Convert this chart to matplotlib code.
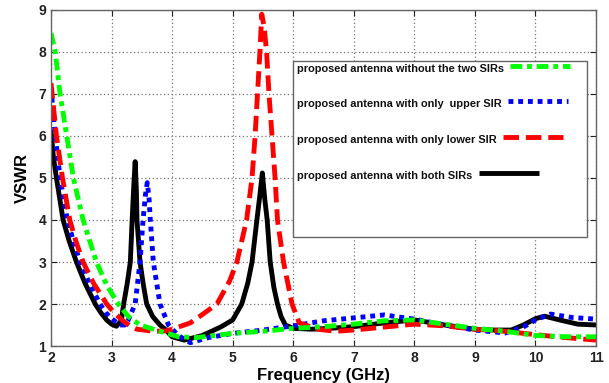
import matplotlib.pyplot as plt
from matplotlib.patches import Rectangle
from matplotlib.lines import Line2D

plt.rcParams['font.family'] = ['Liberation Sans', 'DejaVu Sans']
plt.rcParams['font.weight'] = 'bold'

# VSWR of the four antenna variants
f_none = [2.0, 2.07, 2.15, 2.26, 2.37, 2.53, 2.64, 2.75, 2.92, 3.11, 3.28, 3.47, 3.8, 4.1,
          4.4, 5.0, 5.5, 6.0, 6.5, 7.0, 7.5, 8.0, 8.5, 9.0, 9.5, 10.0, 10.5, 11.0]
v_none = [8.45, 8.0, 7.0, 6.0, 5.0, 4.0, 3.5, 3.0, 2.45, 2.0, 1.7, 1.5, 1.35, 1.22,
          1.2, 1.3, 1.35, 1.42, 1.46, 1.52, 1.6, 1.62, 1.52, 1.42, 1.35, 1.25, 1.22, 1.22]

f_upper = [2.0, 2.07, 2.15, 2.27, 2.37, 2.48, 2.63, 2.81, 2.9, 3.0, 3.14, 3.22, 3.27, 3.33,
           3.39, 3.47, 3.52, 3.56, 3.59, 3.62, 3.64, 3.69, 3.80, 3.94, 4.1, 4.3, 4.6, 5.0,
           5.5, 6.0, 6.5, 7.0, 7.5, 8.0, 8.5, 9.0, 9.5, 9.8, 10.0, 10.25, 10.6, 11.0]
v_upper = [7.14, 6.0, 5.0, 4.0, 3.5, 3.0, 2.5, 2.0, 1.8, 1.65, 1.5, 1.5, 1.6, 1.8,
           2.0, 3.0, 4.0, 4.6, 4.89, 4.5, 4.0, 3.0, 2.0, 1.5, 1.25, 1.08, 1.2, 1.3,
           1.38, 1.48, 1.6, 1.67, 1.74, 1.64, 1.5, 1.38, 1.31, 1.45, 1.62, 1.76, 1.68, 1.64]

f_lower = [2.0, 2.09, 2.19, 2.31, 2.41, 2.53, 2.7, 2.92, 3.05, 3.19, 3.3, 3.42, 3.7, 3.9,
           4.0, 4.3, 4.5, 4.74, 4.95, 5.07, 5.23, 5.32, 5.37, 5.41, 5.45, 5.48, 5.52,
           5.56, 5.60, 5.65, 5.70, 5.74, 5.84, 5.98, 6.1, 6.4, 6.7, 7.0, 7.5, 8.0, 8.5,
           9.0, 9.5, 10.0, 10.5, 11.0]
v_lower = [7.26, 6.0, 5.0, 4.0, 3.5, 3.0, 2.5, 2.0, 1.78, 1.6, 1.48, 1.4, 1.35, 1.36,
           1.4, 1.55, 1.75, 2.0, 2.55, 3.0, 4.0, 5.0, 6.0, 7.0, 8.0, 8.9, 8.6,
           8.0, 7.0, 6.0, 5.0, 4.0, 3.0, 2.0, 1.55, 1.4, 1.35, 1.38, 1.45, 1.52, 1.48,
           1.40, 1.35, 1.27, 1.2, 1.14]

f_both = [2.0, 2.04, 2.09, 2.2, 2.3, 2.42, 2.56, 2.73, 2.83, 2.92, 3.0, 3.08, 3.16, 3.20,
          3.26, 3.31, 3.34, 3.37, 3.39, 3.41, 3.42, 3.47, 3.52, 3.58, 3.68, 3.80, 3.9,
          4.0, 4.2, 4.5, 4.8, 5.0, 5.15, 5.25, 5.32, 5.40, 5.45, 5.49, 5.53, 5.57, 5.62,
          5.68, 5.74, 5.8, 5.87, 6.0, 6.3, 6.6, 7.0, 7.5, 8.0, 8.5, 9.0, 9.3, 9.6, 9.8,
          10.0, 10.15, 10.4, 10.7, 11.0]
v_both = [6.14, 5.5, 5.0, 4.0, 3.5, 3.0, 2.5, 2.0, 1.78, 1.62, 1.52, 1.47, 1.6, 2.0,
          2.5, 3.0, 4.0, 4.9, 5.39, 4.7, 4.0, 3.0, 2.5, 2.0, 1.7, 1.5, 1.38,
          1.22, 1.14, 1.25, 1.45, 1.62, 2.0, 2.5, 3.0, 4.0, 4.6, 5.12, 4.5, 4.0, 3.0,
          2.4, 2.0, 1.7, 1.5, 1.42, 1.4, 1.42, 1.46, 1.55, 1.62, 1.5, 1.4, 1.38, 1.38, 1.5,
          1.65, 1.71, 1.62, 1.52, 1.5]

labels = ['proposed antenna without the two SIRs',
          'proposed antenna with only  upper SIR',
          'proposed antenna with only lower SIR',
          'proposed antenna with both SIRs']

styles = [
    dict(color='#00ff00', lw=3.5, ls=(0, (2.4, 1.0, 1.0, 1.0))),
    dict(color='#0000ff', lw=3.5, ls=(0, (1, 1))),
    dict(color='#ff0000', lw=3.5, ls=(0, (3.2, 1.4))),
    dict(color='black', lw=3.5, ls='-'),
]

fig = plt.figure(figsize=(6.09, 3.83), dpi=100)
ax = fig.add_axes([51 / 609, 37 / 383, 545 / 609, 336 / 383])

series = [(f_none, v_none), (f_upper, v_upper), (f_lower, v_lower), (f_both, v_both)]
order = [3, 1, 2, 0]  # green goes on top
for i in order:
    f, v = series[i]
    ax.plot(f, v, solid_capstyle='butt', dash_capstyle='butt',
            solid_joinstyle='round', **styles[i])

ax.set_xlim(2, 11)
ax.set_ylim(1, 9)
ax.set_xticks(range(2, 12))
ax.set_yticks(range(1, 10))
ax.grid(True, ls=(0, (1, 2)), color='#777777', lw=0.9)
ax.tick_params(direction='in', top=True, right=True, labelsize=10, length=4,
               width=0.8, colors='#222222')
for sp in ax.spines.values():
    sp.set_color('#666666')
    sp.set_linewidth(1.0)
ax.set_xlabel('Frequency (GHz)', fontsize=12, fontweight='bold', labelpad=2)
ax.set_ylabel('VSWR', fontsize=12, fontweight='bold', labelpad=6)

# hand-placed legend: labels on the left, line samples right after each label
ax.add_patch(Rectangle((0.444, 0.324), 0.539, 0.524, transform=ax.transAxes,
                       facecolor='white', edgecolor='#666666', lw=1.0, zorder=5))
rows_y = [0.824, 0.720, 0.613, 0.506]
texts = []
for lab, yy in zip(labels, rows_y):
    t = ax.text(0.452, yy, lab, transform=ax.transAxes, fontsize=7.9,
                fontweight='bold', va='center', ha='left', zorder=6, color='#111111')
    texts.append(t)

fig.canvas.draw()
renderer = fig.canvas.get_renderer()
inv = ax.transAxes.inverted()
for t, st, yy in zip(texts, styles, rows_y):
    bb = t.get_window_extent(renderer)
    x0 = inv.transform((bb.x1 + 6, 0))[0]
    x1 = inv.transform((bb.x1 + 66, 0))[0]
    ax.add_line(Line2D([x0, x1], [yy + 0.01, yy + 0.01], transform=ax.transAxes,
                       zorder=7, solid_capstyle='butt', dash_capstyle='butt', **st))

fig.savefig('out.png', dpi=100)
